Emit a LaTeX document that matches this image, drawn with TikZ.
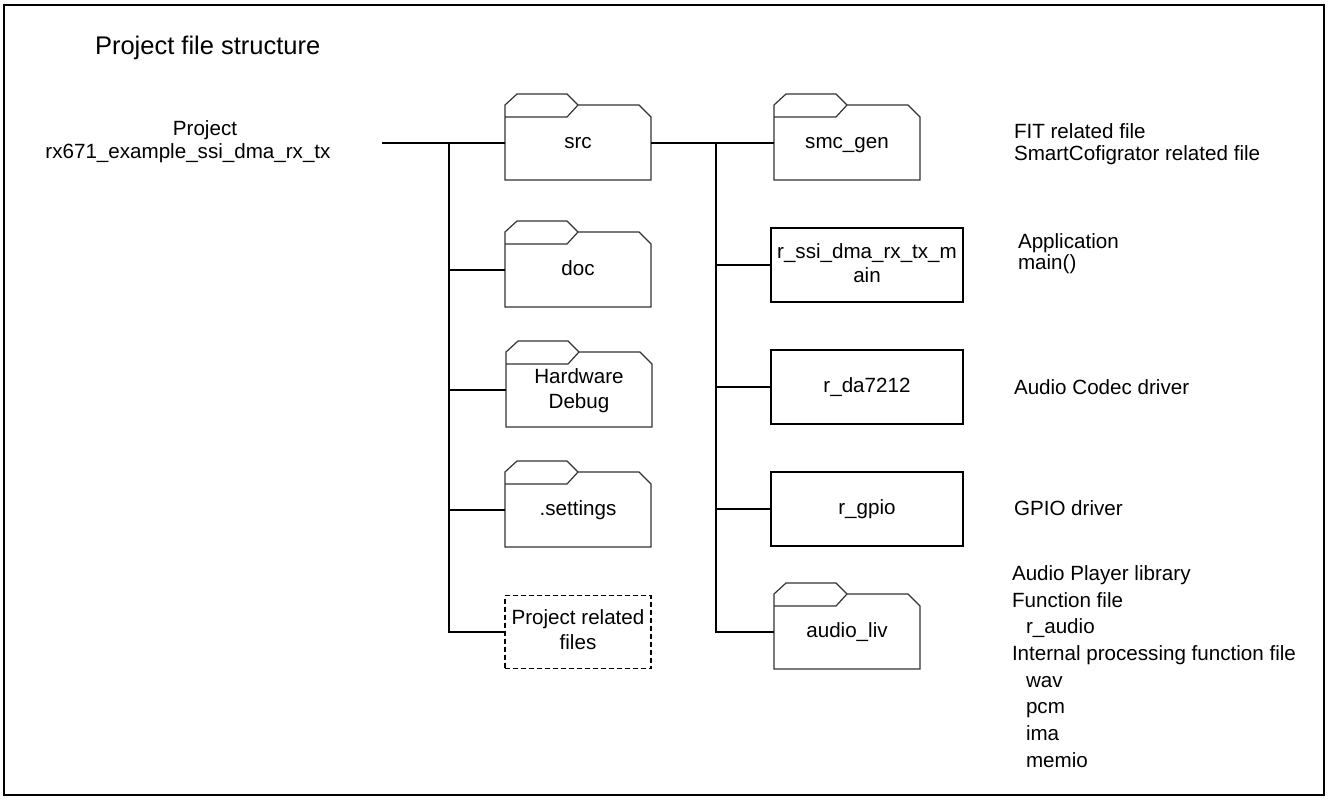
\documentclass[tikz,border=0pt]{standalone}
\usepackage{fontspec}
\setmainfont{Liberation Sans}

% folder outline around a named body node, plus label-level anchors
\newcommand\drawfolder[1]{%
  \draw[folderline] (#1.south west) -- ([yshift=12pt]#1.north west) -- ++(12,11) -- ++(50,0) -- ++(11,-11)
    -- ([shift={(-12,12)}]#1.north east) -- (#1.north east) -- (#1.south east) -- cycle;
  \draw[folderline] (#1.north west) -- ++(62,0) -- ++(11,12);
  \coordinate (#1-l) at ([yshift=5.5pt]#1.west);
  \coordinate (#1-r) at ([yshift=5.5pt]#1.east);
}

\begin{document}
\begin{tikzpicture}[x=1pt,y=1pt,
  every node/.style={inner sep=0pt, outer sep=0pt},
  body/.style={font=\fontsize{20.6}{25}\selectfont},
  folder/.style={body, minimum width=146pt, minimum height=63pt, align=center,
    text height=15pt, text depth=15pt},
  filebox/.style={body, draw, line width=1.2pt, minimum width=192pt, minimum height=74pt,
    align=center, text height=15pt, text depth=4.4pt},
  folderline/.style={draw=black!80, line width=1.2pt, line join=miter},
  wire/.style={line width=1.8pt},
  note/.style={body, anchor=west, align=left, text height=15pt, text depth=4.4pt},
]
\useasboundingbox (0,0) rectangle (1328,-800);
\draw[line width=2pt] (4,-5) rectangle (1324,-795);

% title and project root
\node[anchor=base west, font=\fontsize{25.5}{30}\selectfont] (title) at (95,-55) {Project file structure};
\node[align=center, text height=38pt, text depth=4.4pt, font=\fontsize{20.6}{23}\selectfont]
  (proj) at (188,-141.5) {\hspace*{34pt}Project\\rx671\_example\_ssi\_dma\_rx\_tx};

% first level folders
\node[folder] (src) at (578,-148.5) {src};
\node[folder] (doc) at (578,-275.5) {doc};
\node[folder, text height=40pt] (hwd) at (579,-395.5) {Hardware\\Debug};
\node[folder] (set) at (578,-515.5) {.settings};
\node[filebox, dashed, dash pattern=on 5pt off 3pt, minimum width=146pt, minimum height=73pt,
  text height=40pt] (prf) at (578,-632) {Project related\\files};

% contents of src
\node[folder] (smc) at (847,-148.5) {smc\_gen};
\node[filebox, font=\fontsize{20.6}{23.5}\selectfont, text height=38.5pt] (rssi) at (867,-265) {r\_ssi\_dma\_rx\_tx\_m\\ain};
\node[filebox] (rda) at (867,-387) {r\_da7212};
\node[filebox] (rgp) at (867,-509) {r\_gpio};
\node[folder] (aud) at (847,-637.5) {audio\_liv};

\foreach \n in {src,doc,hwd,set,smc,aud} {\drawfolder{\n}}

% tree connectors
\coordinate (pstart) at (382,-143);
\coordinate (j1) at (449,-143);
\coordinate (j2) at (716,-143);
\draw[wire] (pstart) -- (src-l);
\draw[wire] (j1) |- (prf.west);
\foreach \n in {doc,hwd,set} {\draw[wire] (j1 |- \n-l) -- (\n-l);}
\draw[wire] (src-r) -- (smc-l);
\draw[wire] (j2) |- (aud-l);
\foreach \n in {rssi,rda,rgp} {\draw[wire] (j2 |- \n.west) -- (\n.west);}

% descriptions
\node[note, font=\fontsize{20.6}{22}\selectfont, text height=37pt] (fitnote) at (1014,-144)
  {FIT related file\\SmartCofigrator related file};
\node[note, font=\fontsize{20.6}{21.5}\selectfont, text height=36.5pt] (appnote) at (1018,-253.5)
  {Application\\main()};
\node[note] (codecnote) at (1014,-389) {Audio Codec driver};
\node[note] (gpionote) at (1014,-510) {GPIO driver};
\node[note, font=\fontsize{20.6}{26.7}\selectfont, text height=201.9pt] (audnote) at (1012,-668.5)
  {Audio Player library\\Function file\\\hspace*{14pt}r\_audio\\Internal processing function file\\
   \hspace*{14pt}wav\\\hspace*{14pt}pcm\\\hspace*{14pt}ima\\\hspace*{14pt}memio};
\end{tikzpicture}
\end{document}
